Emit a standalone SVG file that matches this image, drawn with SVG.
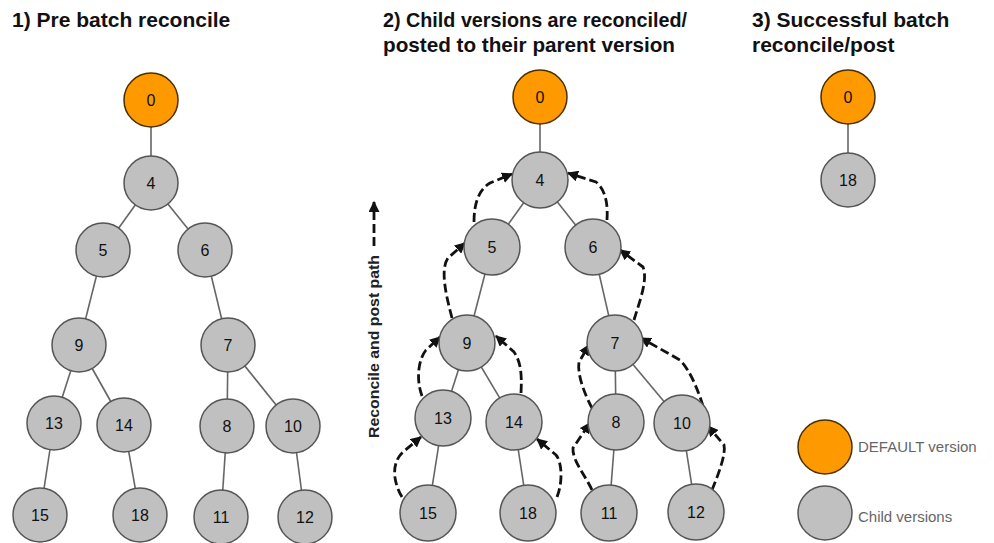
<svg xmlns="http://www.w3.org/2000/svg" width="994" height="543" viewBox="0 0 994 543">
<defs>
<style>
.title{font-family:"Liberation Sans",Arial,sans-serif;font-weight:bold;font-size:21px;fill:#111}
.num{font-family:"Liberation Sans",Arial,sans-serif;font-size:16px;fill:#111;text-anchor:middle;dominant-baseline:central}
.leg{font-family:"Liberation Sans",Arial,sans-serif;font-size:15px;fill:#666}
.side{font-family:"Liberation Sans",Arial,sans-serif;font-weight:bold;font-size:14px;fill:#222}
.def{fill:#FF9900;stroke:#4a3000;stroke-width:1.5}
.child{fill:#C0C0C0;stroke:#555;stroke-width:1.5}
.edge{stroke:#666;stroke-width:1.6;fill:none}
.path{stroke:#111;stroke-width:2.8;fill:none;stroke-dasharray:9 4;marker-end:url(#ah)}
</style>
<marker id="ah" viewBox="0 0 10 10" refX="9" refY="5" markerWidth="11" markerHeight="11" markerUnits="userSpaceOnUse" orient="auto">
<path d="M0,0 L10,5 L0,10 z" fill="#111"/>
</marker>
</defs>
<rect width="994" height="543" fill="#fff"/>

<g id="titles">
<text class="title" x="12" y="27">1) Pre batch reconcile</text>
<text class="title" x="383" y="27" textLength="304" lengthAdjust="spacingAndGlyphs">2) Child versions are reconciled/</text>
<text class="title" x="383" y="52" textLength="292" lengthAdjust="spacingAndGlyphs">posted to their parent version</text>
<text class="title" x="752" y="27">3) Successful batch</text>
<text class="title" x="752" y="52">reconcile/post</text>
</g>

<g id="connectors">
<!-- panel 1 -->
<line class="edge" x1="151" y1="100" x2="151" y2="183"/>
<line class="edge" x1="151" y1="183" x2="103" y2="250"/>
<line class="edge" x1="151" y1="183" x2="205" y2="250"/>
<line class="edge" x1="103" y1="250" x2="79" y2="345"/>
<line class="edge" x1="205" y1="250" x2="228" y2="345"/>
<line class="edge" x1="79" y1="345" x2="54" y2="423"/>
<line class="edge" x1="79" y1="345" x2="124" y2="425"/>
<line class="edge" x1="228" y1="345" x2="227" y2="426"/>
<line class="edge" x1="228" y1="345" x2="293" y2="426"/>
<line class="edge" x1="54" y1="423" x2="40" y2="515"/>
<line class="edge" x1="124" y1="425" x2="140" y2="515"/>
<line class="edge" x1="227" y1="426" x2="221" y2="517"/>
<line class="edge" x1="293" y1="426" x2="305" y2="517"/>
<!-- panel 2 -->
<line class="edge" x1="540" y1="97" x2="540" y2="180"/>
<line class="edge" x1="540" y1="180" x2="492" y2="247"/>
<line class="edge" x1="540" y1="180" x2="593" y2="247"/>
<line class="edge" x1="492" y1="247" x2="467" y2="343"/>
<line class="edge" x1="593" y1="247" x2="615" y2="343"/>
<line class="edge" x1="467" y1="343" x2="443" y2="418"/>
<line class="edge" x1="467" y1="343" x2="514" y2="422"/>
<line class="edge" x1="615" y1="343" x2="616" y2="422"/>
<line class="edge" x1="615" y1="343" x2="682" y2="423"/>
<line class="edge" x1="443" y1="418" x2="428" y2="513"/>
<line class="edge" x1="514" y1="422" x2="528" y2="513"/>
<line class="edge" x1="616" y1="422" x2="609" y2="513"/>
<line class="edge" x1="682" y1="423" x2="696" y2="512"/>
<!-- panel 3 -->
<line class="edge" x1="848" y1="97" x2="848" y2="180"/>
<!-- reconcile / post paths -->
<path class="path" d="M402,497 C392,480 392,462 403,452 L421,437"/>
<path class="path" d="M557,497 C563,482 562,462 556,455 L537,439"/>
<path class="path" d="M422,396 C416,380 418,360 426,350 L440,337"/>
<path class="path" d="M521,393 C522,375 521,362 514,352 L496,336"/>
<path class="path" d="M452,318 C446,295 440,270 448,258 L465,243"/>
<path class="path" d="M474,222 C474,205 478,190 490,183 L512,174"/>
<path class="path" d="M607,220 C608,205 606,190 596,182 L568,173"/>
<path class="path" d="M634,320 C640,300 648,280 643,267 L620,250"/>
<path class="path" d="M592,408 C585,395 577,375 579,362 L589,345"/>
<path class="path" d="M703,406 C698,390 690,370 680,360 L641,338"/>
<path class="path" d="M592,490 C585,475 572,460 573,448 L590,423"/>
<path class="path" d="M712,490 C718,475 726,455 724,445 L708,426"/>
<!-- side legend arrow -->
<path class="path" d="M374,246 L374,202"/>
</g>

<g id="side-label">
<text class="side" transform="translate(379,438) rotate(-90)" x="0" y="0" textLength="183" lengthAdjust="spacingAndGlyphs">Reconcile and post path</text>
</g>

<!-- panel 1 nodes -->
<g id="p1-n0"><circle class="def" cx="151" cy="100" r="27"/><text class="num" x="151" y="100">0</text></g>
<g id="p1-n4"><circle class="child" cx="151" cy="183" r="27"/><text class="num" x="151" y="183">4</text></g>
<g id="p1-n5"><circle class="child" cx="103" cy="250" r="27"/><text class="num" x="103" y="250">5</text></g>
<g id="p1-n6"><circle class="child" cx="205" cy="250" r="27"/><text class="num" x="205" y="250">6</text></g>
<g id="p1-n9"><circle class="child" cx="79" cy="345" r="27"/><text class="num" x="79" y="345">9</text></g>
<g id="p1-n7"><circle class="child" cx="228" cy="345" r="27"/><text class="num" x="228" y="345">7</text></g>
<g id="p1-n13"><circle class="child" cx="54" cy="423" r="27"/><text class="num" x="54" y="423">13</text></g>
<g id="p1-n14"><circle class="child" cx="124" cy="425" r="27"/><text class="num" x="124" y="425">14</text></g>
<g id="p1-n8"><circle class="child" cx="227" cy="426" r="27"/><text class="num" x="227" y="426">8</text></g>
<g id="p1-n10"><circle class="child" cx="293" cy="426" r="27"/><text class="num" x="293" y="426">10</text></g>
<g id="p1-n15"><circle class="child" cx="40" cy="515" r="27"/><text class="num" x="40" y="515">15</text></g>
<g id="p1-n18"><circle class="child" cx="140" cy="515" r="27"/><text class="num" x="140" y="515">18</text></g>
<g id="p1-n11"><circle class="child" cx="221" cy="517" r="27"/><text class="num" x="221" y="517">11</text></g>
<g id="p1-n12"><circle class="child" cx="305" cy="517" r="27"/><text class="num" x="305" y="517">12</text></g>

<!-- panel 2 nodes -->
<g id="p2-n0"><circle class="def" cx="540" cy="97" r="27"/><text class="num" x="540" y="97">0</text></g>
<g id="p2-n4"><circle class="child" cx="540" cy="180" r="28"/><text class="num" x="540" y="180">4</text></g>
<g id="p2-n5"><circle class="child" cx="492" cy="247" r="28"/><text class="num" x="492" y="247">5</text></g>
<g id="p2-n6"><circle class="child" cx="593" cy="247" r="28"/><text class="num" x="593" y="247">6</text></g>
<g id="p2-n9"><circle class="child" cx="467" cy="343" r="28"/><text class="num" x="467" y="343">9</text></g>
<g id="p2-n7"><circle class="child" cx="615" cy="343" r="28"/><text class="num" x="615" y="343">7</text></g>
<g id="p2-n13"><circle class="child" cx="443" cy="418" r="28"/><text class="num" x="443" y="418">13</text></g>
<g id="p2-n14"><circle class="child" cx="514" cy="422" r="28"/><text class="num" x="514" y="422">14</text></g>
<g id="p2-n8"><circle class="child" cx="616" cy="422" r="28"/><text class="num" x="616" y="422">8</text></g>
<g id="p2-n10"><circle class="child" cx="682" cy="423" r="28"/><text class="num" x="682" y="423">10</text></g>
<g id="p2-n15"><circle class="child" cx="428" cy="513" r="28"/><text class="num" x="428" y="513">15</text></g>
<g id="p2-n18"><circle class="child" cx="528" cy="513" r="28"/><text class="num" x="528" y="513">18</text></g>
<g id="p2-n11"><circle class="child" cx="609" cy="513" r="28"/><text class="num" x="609" y="513">11</text></g>
<g id="p2-n12"><circle class="child" cx="696" cy="512" r="28"/><text class="num" x="696" y="512">12</text></g>

<!-- panel 3 nodes -->
<g id="p3-n0"><circle class="def" cx="848" cy="97" r="27"/><text class="num" x="848" y="97">0</text></g>
<g id="p3-n18"><circle class="child" cx="848" cy="180" r="27"/><text class="num" x="848" y="180">18</text></g>

<!-- legend -->
<g id="legend-default"><circle class="def" cx="825" cy="447" r="27"/><text class="leg" x="858" y="452">DEFAULT version</text></g>
<g id="legend-child"><circle class="child" cx="825" cy="513" r="27"/><text class="leg" x="858" y="522">Child versions</text></g>
</svg>
